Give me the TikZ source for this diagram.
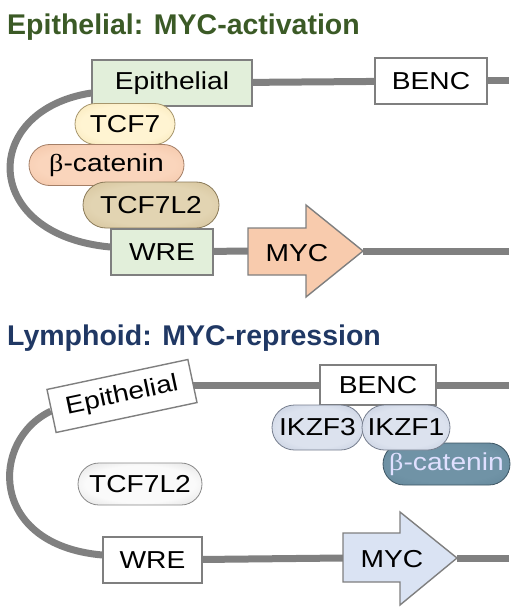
\documentclass[tikz,border=0pt]{standalone}
\usepackage{fontspec}
\setmainfont{Liberation Sans}
\newfontfamily\lab[FakeStretch=1.15]{Liberation Sans}
\newfontfamily\grk[FakeStretch=1.15]{Liberation Serif}
\usetikzlibrary{shapes.misc,calc,backgrounds}
\definecolor{dnagray}{HTML}{808080}
\definecolor{boxline}{HTML}{7F7F7F}
\definecolor{epigreen}{HTML}{E2EFDA}
\definecolor{titlegreen}{HTML}{3B5A26}
\definecolor{titleblue}{HTML}{203864}
\definecolor{peach}{HTML}{F8CBAD}
\definecolor{paleblue}{HTML}{DAE3F3}
\colorlet{pin}{white}
\colorlet{pout}{gray}
\pgfdeclareradialshading[pin,pout]{pill}{\pgfpointorigin}{color(0bp)=(pin); color(22bp)=(pin); color(50bp)=(pout); color(75bp)=(pout)}
\begin{document}
\begin{tikzpicture}[x=1pt,y=-1pt,
		every node/.style={font=\lab\fontsize{24.5}{28}\selectfont, inner sep=0pt},
		heading/.style={font=\fontsize{28.5}{32}\selectfont\bfseries, anchor=base west},
		dna/.style={line width=7pt, draw=dnagray},
		site/.style={rectangle, draw=boxline, line width=1.4pt, minimum height=46pt},
		pill/.style 2 args={rounded rectangle,
			/utils/exec={\definecolor{pin}{HTML}{#1}\definecolor{pout}{HTML}{#2}},
			draw=pout!70!black, line width=0.8pt, shade, shading=pill, minimum height=41pt},
		gene/.style={draw=boxline, line width=1.4pt}]
	\useasboundingbox (0,0) rectangle (520,615);
	% epithelial
	\node[heading, text=titlegreen] (headA) at (7,35) {Epithelial: MYC-activation};
	\node[site, fill=epigreen, minimum width=160pt] (epiA) at (172,83) {Epithelial};
	\node[site, fill=white, minimum width=112pt] (bencA) at (431,81) {BENC};
	\node[pill={FFF4D2}{EED79A}, minimum width=100pt] (tcfA) at (125,124) {TCF7};
	\node[pill={FAD5BC}{EBB593}, minimum width=155pt] (catA) at (106.5,165) {{\grk β}-catenin};
	\node[pill={E2D4B2}{C6AF80}, minimum width=136pt, minimum height=46pt] (tclA) at (151,205) {TCF7L2};
	\node[site, fill=epigreen, minimum width=102pt] (wreA) at (162,252) {WRE};
	\coordinate (mycAtail) at (248,251);
	\coordinate (mycAtip) at (363,251);
	\coordinate (endA1) at (509,81);
	\coordinate (endA2) at (509,251);
	\filldraw[gene, fill=peach] (mycAtail |- 0,228) -- (306,228) -- (306,205) -- (mycAtip)
		-- (306,297) -- (306,275) -- (mycAtail |- 0,275) -- cycle;
	\node (mycA) at (297,253) {MYC};
	% lymphoid
	\node[heading, text=titleblue] (headB) at (7,345) {Lymphoid: MYC-repression};
	\node[site, fill=white, minimum width=144pt, minimum height=44pt, rotate=12] (epiB) at (122,396) {Epithelial};
	\node[site, fill=white, minimum width=116pt, minimum height=40pt] (bencB) at (378,385) {BENC};
	\node[pill={7093A6}{587B8F}, minimum width=127pt, minimum height=42pt, text=white!88!blue] (catB) at (446.5,464) {{\grk β}-catenin};
	\node[pill={DCE2EE}{A8B4CB}, minimum width=91pt, minimum height=45pt] (ikzf3) at (317.5,427.5) {IKZF3};
	\node[pill={DCE2EE}{A8B4CB}, minimum width=88pt, minimum height=45pt] (ikzf1) at (406,427.5) {IKZF1};
	\node[pill={FAFAFA}{C4C4C4}, minimum width=124pt, minimum height=42pt] (tclB) at (140,484) {TCF7L2};
	\node[site, fill=white, minimum width=99pt] (wreB) at (152.5,560) {WRE};
	\coordinate (mycBtail) at (343,558);
	\coordinate (mycBtip) at (457,558);
	\coordinate (endB1) at (509,385);
	\coordinate (endB2) at (509,558);
	\filldraw[gene, fill=paleblue] (mycBtail |- 0,533) -- (400,533) -- (400,512) -- (mycBtip)
		-- (400,605) -- (400,582) -- (mycBtail |- 0,582) -- cycle;
	\node (mycB) at (392,559) {MYC};
	\begin{pgfonlayer}{background}
		\draw[dna] (epiA) -- (bencA);
		\draw[dna] (bencA) -- (endA1);
		\draw[dna] ($(epiA.west)+(0,10)$) .. controls (-20,110) and (-20,235) .. ($(wreA.west)+(0,-5)$);
		\draw[dna] (wreA) -- (mycAtail);
		\draw[dna] (mycAtip) -- (endA2);
		\draw[dna] (epiB.east |- bencB.west) -- (bencB);
		\draw[dna] (bencB) -- (endB1);
		\draw[dna] (epiB.west) .. controls (-10,440) and (-12,545) .. ($(wreB.west)+(0,-5)$);
		\draw[dna] (wreB) -- (mycBtail);
		\draw[dna] (mycBtip) -- (endB2);
	\end{pgfonlayer}
\end{tikzpicture}
\end{document}
